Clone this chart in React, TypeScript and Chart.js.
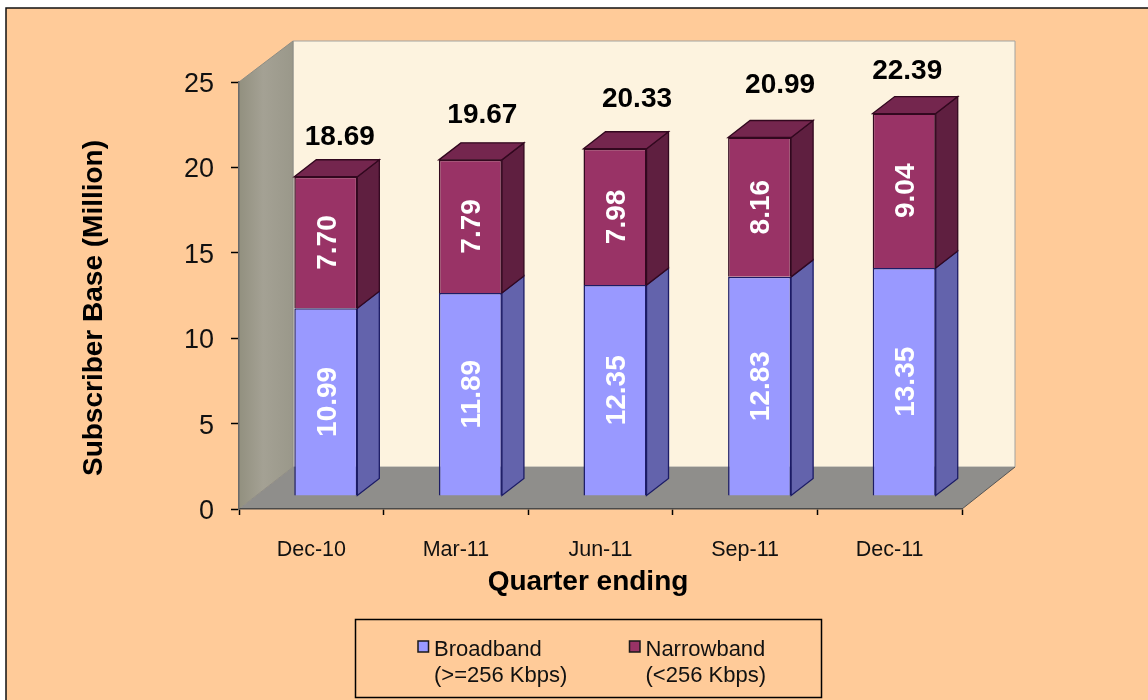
import React, { useEffect, useRef } from "react";
import { Chart, registerables } from "chart.js";

Chart.register(...registerables);

const categories = ["Dec-10", "Mar-11", "Jun-11", "Sep-11", "Dec-11"];
const broadband = [10.99, 11.89, 12.35, 12.83, 13.35];
const narrowband = [7.7, 7.79, 7.98, 8.16, 9.04];
const totals = ["18.69", "19.67", "20.33", "20.99", "22.39"];
const broadbandText = ["10.99", "11.89", "12.35", "12.83", "13.35"];
const narrowbandText = ["7.70", "7.79", "7.98", "8.16", "9.04"];
const legendLines = [
  ["Broadband", "(>=256 Kbps)"],
  ["Narrowband", "(<256 Kbps)"],
];
const totalLabelShiftX = [14, 12, 22, 20.5, 3];
const totalLabelShiftY = [-39.5, -44.5, -49.5, -52, -42];

const FONT = '"Liberation Sans", Arial, sans-serif';
const FLOOR_DX = 54;
const FLOOR_DY = -42;
const BAR_DX = 14.5;
const BAR_DY = -13;
const SIDE_DX = 22;
const SIDE_DY = -17;

const faces = [
  { front: "#9999FF", side: "#6363AC", top: "#7474C0", line: "#1C1C66" },
  { front: "#993366", side: "#5F1F40", top: "#74264E", line: "#32081F" },
];

const poly = (ctx: CanvasRenderingContext2D, pts: number[][], fill: any, stroke?: string, lw = 1) => {
  ctx.beginPath();
  pts.forEach((p, i) => (i ? ctx.lineTo(p[0], p[1]) : ctx.moveTo(p[0], p[1])));
  ctx.closePath();
  ctx.fillStyle = fill;
  ctx.fill();
  if (stroke) {
    ctx.strokeStyle = stroke;
    ctx.lineWidth = lw;
    ctx.stroke();
  }
};

const scene = {
  id: "scene",
  afterLayout(chart: any) {
    const s = chart.scales.y;
    if (s.__shifted) return;
    s.__shifted = true;
    const orig = s.drawLabels;
    s.drawLabels = function (area: any) {
      chart.ctx.save();
      chart.ctx.translate(0, 2.5);
      orig.call(this, area);
      chart.ctx.restore();
    };
  },
  beforeDraw(chart: any) {
    const { ctx, chartArea: a } = chart;
    ctx.save();
    // panel
    ctx.fillStyle = "#FFCB99";
    ctx.fillRect(6, 8, 1142, 692);
    ctx.strokeStyle = "#111111";
    ctx.lineWidth = 1.5;
    ctx.beginPath();
    ctx.moveTo(6, 700);
    ctx.lineTo(6, 8);
    ctx.lineTo(1148, 8);
    ctx.stroke();
    // back wall
    const bl = [a.left + FLOOR_DX, a.bottom + FLOOR_DY];
    const br = [a.right + FLOOR_DX - 1, a.bottom + FLOOR_DY];
    const tl = [a.left + FLOOR_DX, a.top + FLOOR_DY + 1];
    const tr = [a.right + FLOOR_DX - 1, a.top + FLOOR_DY + 1];
    poly(ctx, [tl, tr, br, bl], "#FDF3DF", "#A3A3A0", 1);
    // side wall
    const g = ctx.createLinearGradient(a.left, 0, bl[0], 0);
    g.addColorStop(0, "#92907F");
    g.addColorStop(0.45, "#A4A194");
    g.addColorStop(1, "#9A988A");
    poly(ctx, [[a.left, a.top], tl, bl, [a.left, a.bottom]], g, "#8E8D84", 1);
    // floor
    poly(ctx, [[a.left, a.bottom], bl, br, [a.right, a.bottom]], "#8F8E8B");
    ctx.strokeStyle = "#555555";
    ctx.lineWidth = 1;
    ctx.beginPath();
    ctx.moveTo(a.right, a.bottom);
    ctx.lineTo(br[0], br[1]);
    ctx.stroke();
    ctx.restore();
  },
  beforeDatasetsDraw(chart: any) {
    chart.ctx.save();
    chart.ctx.translate(BAR_DX, BAR_DY);
  },
  afterDatasetsDraw(chart: any) {
    const { ctx } = chart;
    ctx.restore();
    const count = chart.data.datasets.length;
    chart.data.datasets.forEach((_: any, d: number) => {
      const face = faces[d];
      chart.getDatasetMeta(d).data.forEach((bar: any) => {
        const half = bar.width / 2;
        const right = bar.x + half + BAR_DX;
        const left = bar.x - half + BAR_DX;
        const top = bar.y + BAR_DY;
        const bottom = bar.base + BAR_DY;
        poly(
          ctx,
          [
            [right, top],
            [right + SIDE_DX, top + SIDE_DY],
            [right + SIDE_DX, bottom + SIDE_DY],
            [right, bottom],
          ],
          face.side,
          face.line,
          1.3
        );
        if (d === count - 1) {
          poly(
            ctx,
            [
              [left, top],
              [left + SIDE_DX, top + SIDE_DY],
              [right + SIDE_DX, top + SIDE_DY],
              [right, top],
            ],
            face.top,
            face.line,
            1.3
          );
        }
      });
    });
  },
  afterDraw(chart: any) {
    const { ctx } = chart;
    ctx.save();
    // inner labels
    ctx.fillStyle = "#FFFFFF";
    ctx.font = `bold 28px ${FONT}`;
    ctx.textAlign = "center";
    ctx.textBaseline = "middle";
    [broadbandText, narrowbandText].forEach((texts, d) => {
      chart.getDatasetMeta(d).data.forEach((bar: any, i: number) => {
        ctx.save();
        ctx.translate(bar.x + BAR_DX + 1, (bar.y + bar.base) / 2 + BAR_DY);
        ctx.rotate(-Math.PI / 2);
        ctx.fillText(texts[i], 0, 1);
        ctx.restore();
      });
    });
    // totals
    ctx.fillStyle = "#000000";
    chart.getDatasetMeta(1).data.forEach((bar: any, i: number) => {
      ctx.fillText(
        totals[i],
        bar.x + BAR_DX + totalLabelShiftX[i],
        bar.y + BAR_DY + totalLabelShiftY[i]
      );
    });
    // axis titles
    ctx.font = `bold 28px ${FONT}`;
    ctx.fillText("Quarter ending", 588, 582);
    ctx.save();
    ctx.translate(94, 308);
    ctx.rotate(-Math.PI / 2);
    ctx.fillText("Subscriber Base (Million)", 0, 0);
    ctx.restore();
    // legend
    ctx.strokeStyle = "#000000";
    ctx.lineWidth = 1.5;
    ctx.strokeRect(355.5, 619.5, 466, 78);
    const swatchX = [418, 629.5];
    ctx.textAlign = "left";
    ctx.font = `22px ${FONT}`;
    legendLines.forEach((lines, d) => {
      ctx.fillStyle = faces[d].front;
      ctx.fillRect(swatchX[d], 641, 10.5, 11);
      ctx.strokeStyle = "#1A1A1A";
      ctx.lineWidth = 1.5;
      ctx.strokeRect(swatchX[d], 641, 10.5, 11);
      ctx.fillStyle = "#111111";
      ctx.fillText(lines[0], swatchX[d] + 16, 649.5);
      ctx.fillText(lines[1], swatchX[d] + 16, 675.5);
    });
    ctx.restore();
  },
};

export default function App() {
  const ref = useRef<HTMLCanvasElement>(null);
  useEffect(() => {
    const chart = new Chart(ref.current!, {
      type: "bar",
      data: {
        labels: categories,
        datasets: [
          {
            label: "Broadband (>=256 Kbps)",
            data: broadband,
            backgroundColor: faces[0].front,
            borderColor: faces[0].line,
            borderWidth: 1.5,
            clip: false,
          },
          {
            label: "Narrowband (<256 Kbps)",
            data: narrowband,
            backgroundColor: faces[1].front,
            borderColor: faces[1].line,
            borderWidth: 1.5,
            clip: false,
          },
        ],
      } as any,
      options: {
        responsive: false,
        animation: false,
        layout: { padding: { left: 0, top: 82, right: 186, bottom: 0 } },
        datasets: { bar: { categoryPercentage: 1, barPercentage: 0.436 } },
        plugins: { legend: { display: false }, tooltip: { enabled: false }, title: { display: false } },
        scales: {
          x: {
            stacked: true,
            afterFit: (s: any) => {
              s.height = 191;
              s.paddingLeft = 0;
              s.paddingRight = 0;
            },
            border: { color: "#4A4A4A", width: 1.5 },
            grid: { drawOnChartArea: false, drawTicks: true, tickLength: 6, tickColor: "#000000", tickWidth: 1.5 },
            ticks: { maxRotation: 0, color: "#111111", font: { family: FONT, size: 21.5 }, padding: 22 },
          },
          y: {
            stacked: true,
            min: 0,
            max: 25,
            afterFit: (s: any) => {
              s.width = 239;
              s.paddingTop = 0;
              s.paddingBottom = 0;
            },
            border: { color: "#6A6A6A", width: 1.5 },
            grid: { drawOnChartArea: false, drawTicks: true, tickLength: 8, tickColor: "#000000", tickWidth: 1.5 },
            ticks: { stepSize: 5, color: "#111111", font: { family: FONT, size: 27 }, padding: 17 },
          },
        },
      } as any,
      plugins: [scene] as any,
    });
    return () => chart.destroy();
  }, []);
  return (
    <canvas
      ref={ref}
      width={1148}
      height={700}
      style={{ position: "absolute", left: 0, top: 0, display: "block", width: 1148, height: 700 }}
    />
  );
}
